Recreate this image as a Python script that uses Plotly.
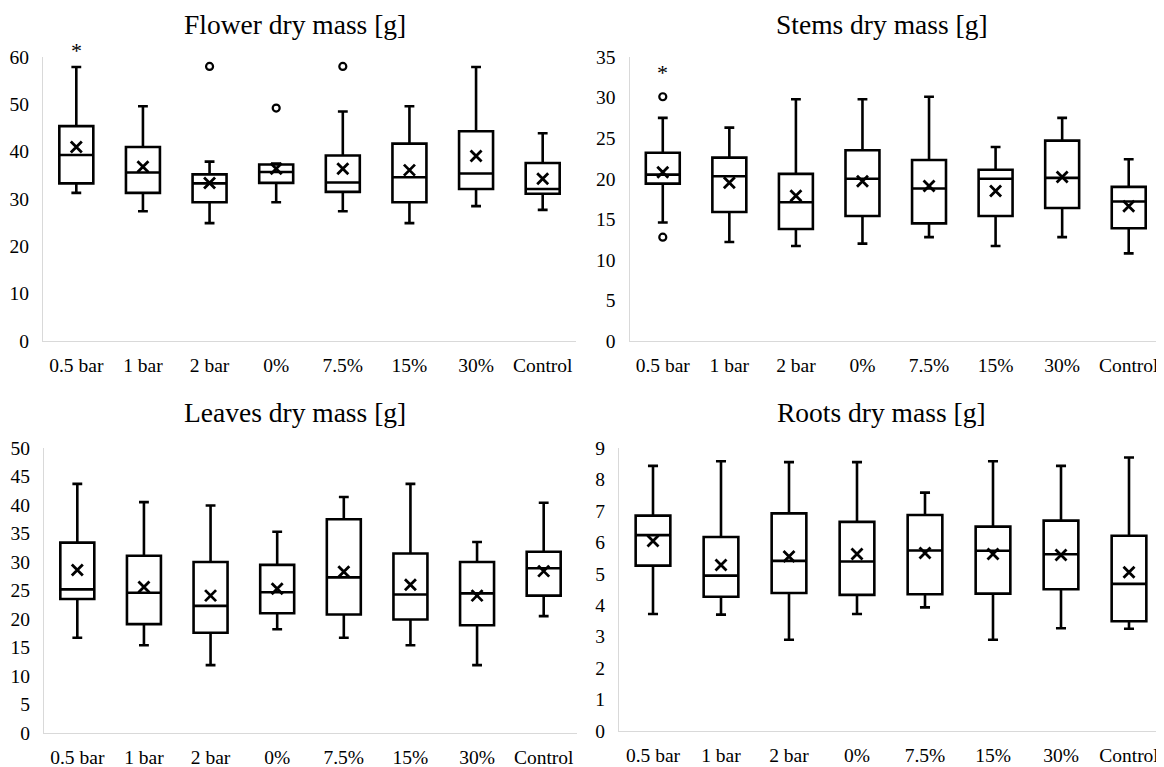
import plotly.graph_objects as go

categories = ["0.5 bar", "1 bar", "2 bar", "0%", "7.5%", "15%", "30%", "Control"]

flower_lower = [31.3, 27.4, 24.9, 29.3, 27.4, 24.9, 28.5, 27.7]
flower_q1 = [33.3, 31.3, 29.3, 33.4, 31.5, 29.3, 32.1, 31.1]
flower_median = [39.3, 35.6, 33.3, 35.7, 33.5, 34.6, 35.4, 32.1]
flower_q3 = [45.4, 41.0, 35.2, 37.3, 39.2, 41.7, 44.3, 37.6]
flower_upper = [57.9, 49.6, 37.9, 37.5, 48.5, 49.6, 57.9, 43.9]
flower_mean = [41.0, 36.8, 33.4, 36.4, 36.4, 36.1, 39.1, 34.3]
flower_out_x = ["2 bar", "0%", "7.5%"]
flower_out_y = [58.0, 49.2, 58.0]

stems_lower = [14.6, 12.2, 11.7, 12.0, 12.8, 11.7, 12.8, 10.8]
stems_q1 = [19.4, 15.9, 13.8, 15.4, 14.5, 15.4, 16.4, 13.9]
stems_median = [20.5, 20.3, 17.1, 20.0, 18.8, 20.0, 20.1, 17.2]
stems_q3 = [23.2, 22.6, 20.6, 23.5, 22.3, 21.1, 24.7, 19.0]
stems_upper = [27.5, 26.3, 29.8, 29.8, 30.1, 23.9, 27.5, 22.4]
stems_mean = [20.8, 19.5, 17.9, 19.7, 19.1, 18.5, 20.2, 16.6]
stems_out_x = ["0.5 bar", "0.5 bar"]
stems_out_y = [30.1, 12.8]

leaves_lower = [16.7, 15.4, 11.9, 18.2, 16.7, 15.4, 11.9, 20.5]
leaves_q1 = [23.5, 19.1, 17.6, 21.0, 20.8, 19.9, 18.9, 24.1]
leaves_median = [25.2, 24.6, 22.3, 24.7, 27.3, 24.3, 24.5, 28.9]
leaves_q3 = [33.4, 31.1, 30.0, 29.5, 37.5, 31.5, 30.0, 31.8]
leaves_upper = [43.7, 40.5, 39.9, 35.3, 41.4, 43.7, 33.5, 40.4]
leaves_mean = [28.6, 25.6, 24.1, 25.3, 28.3, 26.0, 24.1, 28.4]

roots_lower = [3.72, 3.70, 2.90, 3.72, 3.93, 2.90, 3.27, 3.25]
roots_q1 = [5.26, 4.27, 4.39, 4.33, 4.35, 4.37, 4.51, 3.49]
roots_median = [6.23, 4.94, 5.41, 5.39, 5.74, 5.73, 5.62, 4.68]
roots_q3 = [6.85, 6.17, 6.92, 6.65, 6.87, 6.50, 6.69, 6.21]
roots_upper = [8.43, 8.58, 8.55, 8.55, 7.58, 8.58, 8.43, 8.70]
roots_mean = [6.04, 5.28, 5.55, 5.63, 5.66, 5.63, 5.60, 5.05]

titles = ["Flower dry mass [g]", "Stems dry mass [g]", "Leaves dry mass [g]", "Roots dry mass [g]"]
y_ranges = [[0, 60], [0, 35], [0, 50], [0, 9]]
y_dticks = [10, 5, 5, 1]

star_cats = ["0.5 bar", "0.5 bar"]

# page offset (browser default body margin) and figure size
OFF = 8
W, H = 1164 - OFF, 767 - OFF
FONT = "Liberation Serif, Times New Roman, serif"

panels = [
    (flower_lower, flower_q1, flower_median, flower_q3, flower_upper, flower_mean, flower_out_x, flower_out_y),
    (stems_lower, stems_q1, stems_median, stems_q3, stems_upper, stems_mean, stems_out_x, stems_out_y),
    (leaves_lower, leaves_q1, leaves_median, leaves_q3, leaves_upper, leaves_mean, [], []),
    (roots_lower, roots_q1, roots_median, roots_q3, roots_upper, roots_mean, [], []),
]

# screen-pixel boxes of plot areas: (left, right, top, bottom)
areas = [(43, 576, 57, 341), (629.5, 1162, 57, 341), (44, 577, 448, 733), (619, 1163, 448, 731)]
title_pos = [(295, 24.5), (882, 24.5), (295, 412.5), (881, 412.5)]
star_pix = [49, 71]   # screen y of asterisk glyph centres (panels 1 and 2)


def px_x(v):
    return (v - OFF) / W


def px_y(v):
    return 1 - (v - OFF) / H


fig = go.Figure()
layout = dict(
    width=W, height=H, margin=dict(l=0, r=0, t=0, b=0, autoexpand=False),
    paper_bgcolor="white", plot_bgcolor="white", showlegend=False,
    font=dict(family=FONT, size=19.5, color="black"),
)
annotations = []

for i, (lo, q1, med, q3, up, mn, ox, oy) in enumerate(panels):
    n = "" if i == 0 else str(i + 1)
    xa, ya = "x" + n, "y" + n
    fig.add_trace(go.Box(
        x=categories, lowerfence=lo, q1=q1, median=med, q3=q3, upperfence=up,
        xaxis=xa, yaxis=ya, width=0.51, whiskerwidth=0.29,
        fillcolor="white", line=dict(color="black", width=2.6),
        boxpoints=False, hoverinfo="skip",
    ))
    fig.add_trace(go.Scatter(
        x=categories, y=mn, xaxis=xa, yaxis=ya, mode="markers",
        marker=dict(symbol="x-thin", size=11, line=dict(color="black", width=2.8), color="black"),
        hoverinfo="skip", cliponaxis=False,
    ))
    if ox:
        fig.add_trace(go.Scatter(
            x=ox, y=oy, xaxis=xa, yaxis=ya, mode="markers",
            marker=dict(symbol="circle-open", size=7, line=dict(color="black", width=2.2), color="black"),
            hoverinfo="skip", cliponaxis=False,
        ))
    l, r, t, b = areas[i]
    layout["xaxis" + n] = dict(
        domain=[px_x(l), min(px_x(r), 1)], anchor=ya, type="category",
        categoryorder="array", categoryarray=categories, range=[-0.5, 7.5],
        showline=True, linecolor="#d9d9d9", linewidth=1.3, showgrid=False, zeroline=False,
        ticks="", tickfont=dict(family=FONT, size=19.5, color="black"), ticklabelstandoff=6,
        automargin=False, fixedrange=True,
    )
    layout["yaxis" + n] = dict(
        domain=[px_y(b), px_y(t)], anchor=xa, range=y_ranges[i], dtick=y_dticks[i],
        showline=True, linecolor="#d9d9d9", linewidth=1.3, showgrid=False, zeroline=False,
        ticks="", tickfont=dict(family=FONT, size=19.5, color="black"), ticklabelstandoff=9,
        automargin=False, fixedrange=True,
    )
    tx, ty = title_pos[i]
    annotations.append(dict(
        text=titles[i], x=px_x(tx), y=px_y(ty), xref="paper", yref="paper",
        xanchor="center", yanchor="middle", showarrow=False,
        font=dict(family=FONT, size=27.5, color="black"),
    ))

for k in range(2):
    n = "" if k == 0 else str(k + 1)
    l, r, t, b = areas[k]
    ydom = 1 + (t - (star_pix[k] + 1)) / (b - t)
    annotations.append(dict(
        text="*", x=star_cats[k], y=ydom, xref="x" + n, yref="y" + n + " domain",
        xanchor="center", yanchor="middle", showarrow=False,
        font=dict(family=FONT, size=22, color="black"),
    ))

layout["annotations"] = annotations
fig.update_layout(**layout)
fig.write_html("out.html")
